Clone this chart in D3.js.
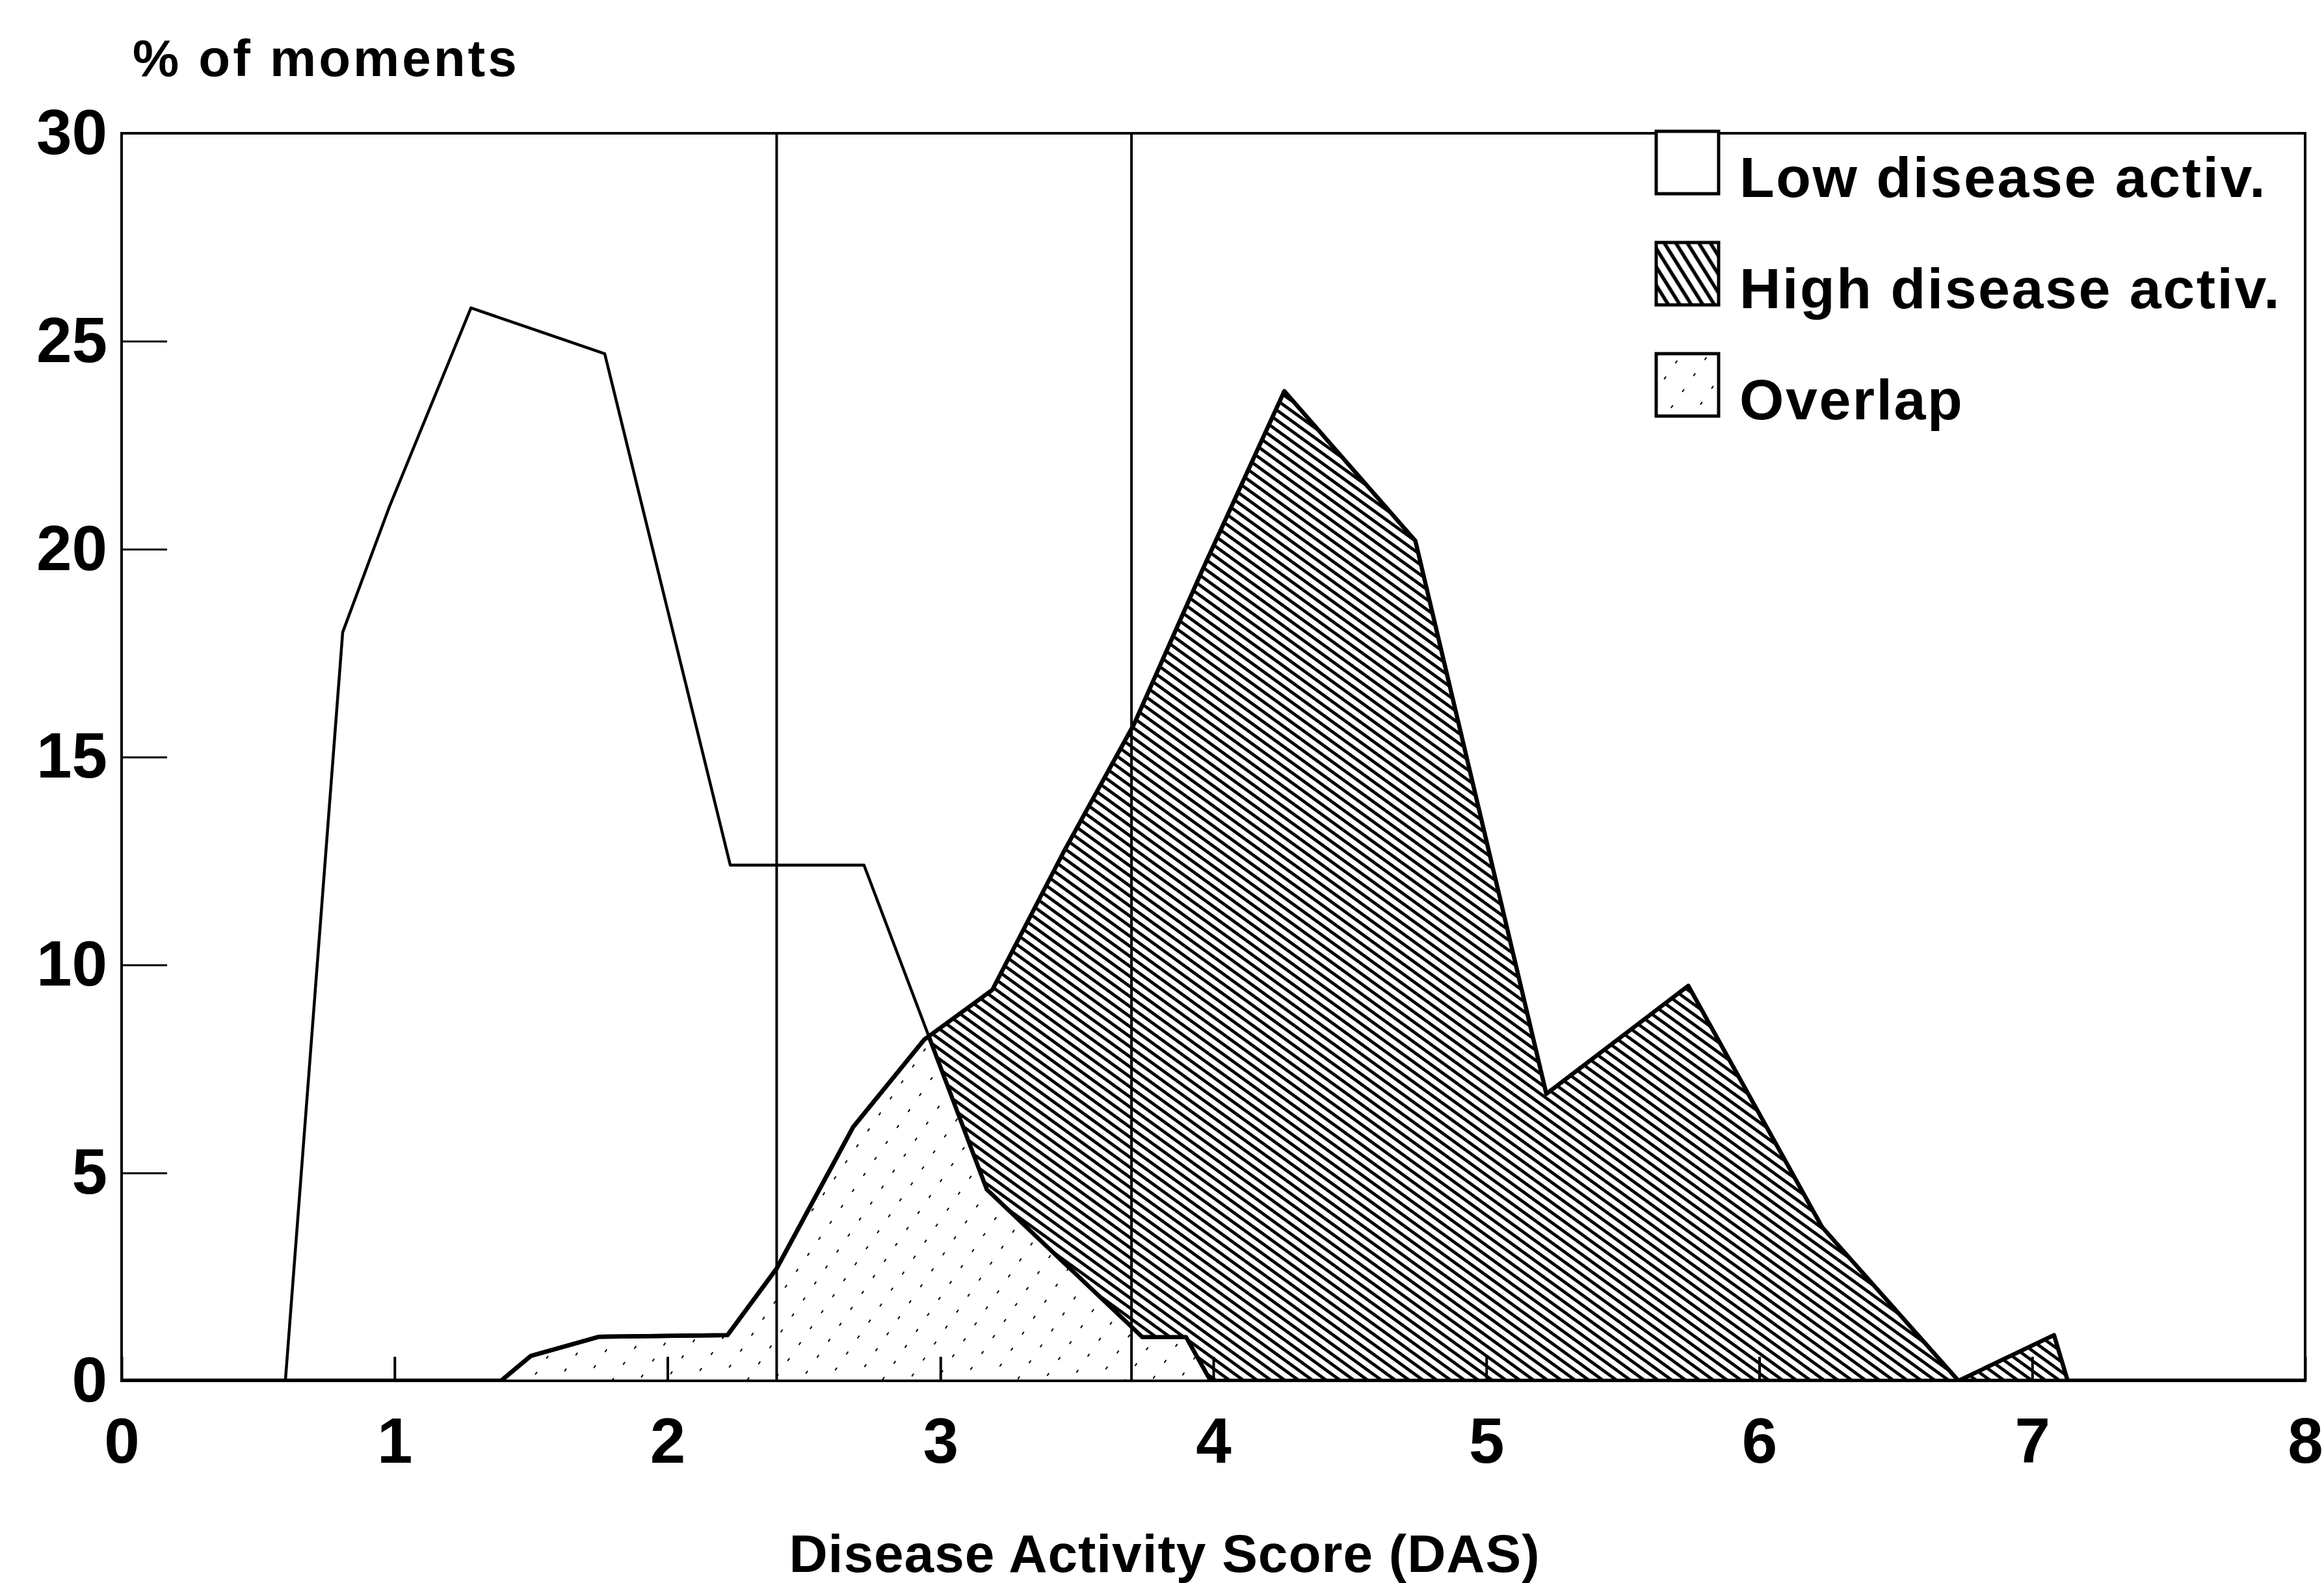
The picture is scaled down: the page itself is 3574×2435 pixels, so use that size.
<!DOCTYPE html>
<html><head><meta charset="utf-8">
<script src="https://cdn.jsdelivr.net/npm/d3@7"></script>
<style>
html,body{margin:0;padding:0;background:#fff;}
svg{display:block;}
text{font-family:"Liberation Sans",Arial,Helvetica,sans-serif;font-weight:bold;fill:#000;}
</style>
</head><body>
<svg id="chart" width="3574" height="2435"></svg>
<script>
// ---- data ----
const xTicks = [0, 1, 2, 3, 4, 5, 6, 7, 8];
const yTicks = [0, 5, 10, 15, 20, 25, 30];
const lowX  = [0, 0.60, 0.81, 0.98, 1.28, 1.77, 2.23, 2.72, 3.17, 3.74, 3.90, 3.99, 8];
const lowY  = [0, 0,    18.0, 21.0, 25.8, 24.7, 12.4, 12.4, 4.6,  1.05, 1.05, 0,    0];
const highX = [0, 1.39, 1.50, 1.75, 2.22, 2.40, 2.68, 2.94, 3.19, 3.45, 3.71, 3.96, 4.26, 4.74, 5.22, 5.74, 6.23, 6.73, 7.08, 7.13, 8];
const highY = [0, 0,    0.6,  1.06, 1.1,  2.7,  6.1,  8.2,  9.4,  12.7, 15.8, 19.5, 23.8, 20.2, 6.9,  9.5,  3.7,  0,    1.1,  0,    0];
const cutoffs = [2.4, 3.7];
const legendLabels = ["Low disease activ.", "High disease activ.", "Overlap"];
const yTitle = "% of moments";
const xTitle = "Disease Activity Score (DAS)";

// ---- layout ----
const svg = d3.select("#chart");
const x = d3.scaleLinear().domain([0, 8]).range([187, 3545]);
const y = d3.scaleLinear().domain([0, 30]).range([2124, 205]);

const low = lowX.map((v, i) => [v, lowY[i]]);
const high = highX.map((v, i) => [v, highY[i]]);

function interp(pts, t) {
  for (let i = 0; i < pts.length - 1; i++) {
    const a = pts[i], b = pts[i + 1];
    if (t >= a[0] && t <= b[0]) {
      if (b[0] === a[0]) return Math.min(a[1], b[1]);
      return a[1] + (b[1] - a[1]) * (t - a[0]) / (b[0] - a[0]);
    }
  }
  return 0;
}
// pointwise minimum of the two polylines (overlap region)
let xs = Array.from(new Set(lowX.concat(highX))).sort((a, b) => a - b);
const withCross = [];
for (let i = 0; i < xs.length; i++) {
  withCross.push(xs[i]);
  if (i < xs.length - 1) {
    const a = xs[i], b = xs[i + 1];
    const da = interp(low, a) - interp(high, a), db = interp(low, b) - interp(high, b);
    if (da * db < 0) withCross.push(a + (b - a) * da / (da - db));
  }
}
const overlap = withCross.map(t => [t, Math.min(interp(low, t), interp(high, t))]);

const defs = svg.append("defs");
// dense hatch for high activity
const hp = defs.append("pattern").attr("id", "hatch").attr("patternUnits", "userSpaceOnUse")
  .attr("width", 40).attr("height", 12.5).attr("patternTransform", "rotate(36)");
hp.append("rect").attr("width", 40).attr("height", 12.5).attr("fill", "#fff");
hp.append("line").attr("x1", 0).attr("x2", 40).attr("y1", 6.25).attr("y2", 6.25)
  .attr("stroke", "#000").attr("stroke-width", 5);
// legend hatch (steeper)
const hl = defs.append("pattern").attr("id", "hatchLeg").attr("patternUnits", "userSpaceOnUse")
  .attr("width", 40).attr("height", 15).attr("patternTransform", "rotate(58)");
hl.append("rect").attr("width", 40).attr("height", 15).attr("fill", "#fff");
hl.append("line").attr("x1", 0).attr("x2", 40).attr("y1", 7.5).attr("y2", 7.5)
  .attr("stroke", "#000").attr("stroke-width", 5.5);
// sparse dashes for overlap
const op = defs.append("pattern").attr("id", "dots").attr("patternUnits", "userSpaceOnUse")
  .attr("width", 60).attr("height", 34).attr("patternTransform", "rotate(-55)");
op.append("rect").attr("width", 60).attr("height", 34).attr("fill", "#fff");
op.append("line").attr("x1", 0).attr("x2", 60).attr("y1", 17).attr("y2", 17)
  .attr("stroke", "#000").attr("stroke-width", 2.2).attr("stroke-dasharray", "5 25");

defs.append("clipPath").attr("id", "plotClip").append("rect")
  .attr("x", x(0)).attr("y", y(30)).attr("width", x(8) - x(0)).attr("height", y(0) - y(30));

const area = d3.area().x(d => x(d[0])).y0(y(0)).y1(d => y(d[1]));
const line = d3.line().x(d => x(d[0])).y(d => y(d[1]));

const plot = svg.append("g").attr("clip-path", "url(#plotClip)");
plot.append("path").datum(high).attr("d", area).attr("fill", "url(#hatch)");
plot.append("path").datum(overlap).attr("d", area).attr("fill", "url(#dots)");

// cutoff lines
plot.selectAll(".cut").data(cutoffs).enter().append("line")
  .attr("x1", d => x(d)).attr("x2", d => x(d)).attr("y1", y(30)).attr("y2", y(0))
  .attr("stroke", "#000").attr("stroke-width", 4);

// curves
plot.append("path").datum(low).attr("d", line).attr("fill", "none")
  .attr("stroke", "#000").attr("stroke-width", 4.5).attr("stroke-linejoin", "round");
plot.append("path").datum(overlap).attr("d", line).attr("fill", "none")
  .attr("stroke", "#000").attr("stroke-width", 6.5).attr("stroke-linejoin", "round");
plot.append("path").datum(high).attr("d", line).attr("fill", "none")
  .attr("stroke", "#000").attr("stroke-width", 6.5).attr("stroke-linejoin", "round");

// axes
const xAxis = d3.axisBottom(x).tickValues(xTicks).tickFormat(d3.format("d"))
  .tickSizeInner(-37).tickSizeOuter(0).tickPadding(56);
const gx = svg.append("g").attr("transform", `translate(0,${y(0)})`).call(xAxis);
gx.select(".domain").remove();
gx.selectAll(".tick line").attr("stroke", "#000").attr("stroke-width", 4);
gx.selectAll(".tick text").attr("font-size", 98);

const yAxis = d3.axisLeft(y).tickValues(yTicks).tickFormat(d3.format("d"))
  .tickSizeInner(-70).tickSizeOuter(0).tickPadding(22);
const gy = svg.append("g").attr("transform", `translate(${x(0)},0)`).call(yAxis);
gy.select(".domain").remove();
gy.selectAll(".tick line").attr("stroke", "#000").attr("stroke-width", 3);
gy.selectAll(".tick text").attr("font-size", 98);
svg.selectAll(".tick text").attr("fill", "#000");
svg.selectAll("g").attr("font-family", null);

// frame
svg.append("rect").attr("x", x(0)).attr("y", y(30)).attr("width", x(8) - x(0)).attr("height", y(0) - y(30))
  .attr("fill", "none").attr("stroke", "#000").attr("stroke-width", 4);

// titles
svg.append("text").attr("x", 204).attr("y", 117).attr("font-size", 80)
  .attr("letter-spacing", 4).text(yTitle);
svg.append("text").attr("x", 1791).attr("y", 2418).attr("font-size", 82)
  .attr("text-anchor", "middle").attr("letter-spacing", 1).text(xTitle);

// legend
const legFills = ["#fff", "url(#hatchLeg)", "url(#dots)"];
const leg = svg.append("g");
legendLabels.forEach((lab, i) => {
  const top = 202 + i * 171;
  leg.append("rect").attr("x", 2547).attr("y", top).attr("width", 96).attr("height", 96)
    .attr("fill", legFills[i]).attr("stroke", "#000").attr("stroke-width", 5);
  leg.append("text").attr("x", 2675).attr("y", top + 101).attr("font-size", 88)
    .attr("letter-spacing", 2.5).text(lab);
});
</script>
</body></html>
